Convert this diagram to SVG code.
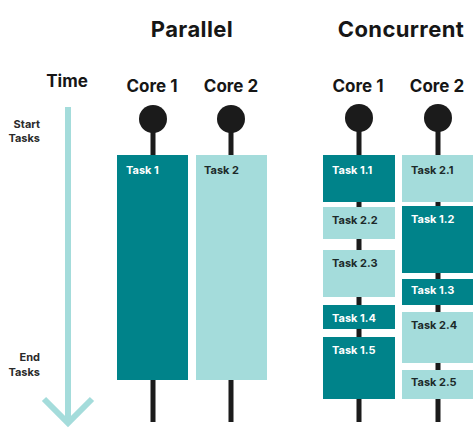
<svg xmlns="http://www.w3.org/2000/svg" width="473" height="428" viewBox="0 0 473 428">
  <style>
    .title { font-family: Inter, "DejaVu Sans", sans-serif; font-weight: 700; font-size: 22px; letter-spacing: 0.4px; fill: #161616; text-anchor: middle; }
    .core { font-family: Inter, "DejaVu Sans", sans-serif; font-weight: 700; font-size: 17px; fill: #161616; text-anchor: middle; }
    .side { font-family: Inter, "DejaVu Sans", sans-serif; font-weight: 700; font-size: 11px; fill: #2a2a2a; text-anchor: end; }
    .lbl { font-family: Inter, "DejaVu Sans", sans-serif; font-weight: 700; font-size: 11px; }
    .dark { fill: #00838a; }
    .light { fill: #a4dcdb; }
    .on-dark { fill: #ffffff; }
    .on-light { fill: #1c2a2a; }
    .stem { stroke: #1b1b1b; stroke-width: 5; fill: none; }
    .pin { fill: #1b1b1b; }
    .time { stroke: #a4dcdb; stroke-width: 6; fill: none; }
  </style>

  <rect width="473" height="428" fill="#ffffff"/>

  <!-- headings -->
  <text class="title" x="192" y="37">Parallel</text>
  <text class="title" x="401" y="37">Concurrent</text>

  <!-- time axis -->
  <g id="time-axis">
    <text class="core" x="67" y="87">Time</text>
    <text class="side" x="40" y="128">Start</text>
    <text class="side" x="40" y="142">Tasks</text>
    <text class="side" x="40" y="361">End</text>
    <text class="side" x="40" y="376">Tasks</text>
    <line class="time" x1="68" y1="107" x2="68" y2="423"/>
    <polyline class="time" points="44,399 68,423 92,399"/>
  </g>

  <!-- core timelines (stems behind the task blocks) -->
  <g id="connectors">
    <line class="stem" x1="153" y1="119" x2="153" y2="422"/>
    <line class="stem" x1="231" y1="119" x2="231" y2="422"/>
    <line class="stem" x1="359" y1="119" x2="359" y2="422"/>
    <line class="stem" x1="438" y1="119" x2="438" y2="422"/>
    <circle class="pin" cx="153" cy="119" r="14"/>
    <circle class="pin" cx="231" cy="119" r="14"/>
    <circle class="pin" cx="359" cy="118" r="14"/>
    <circle class="pin" cx="438" cy="118" r="14"/>
  </g>

  <!-- parallel cores -->
  <g id="par-core1">
    <text class="core" x="152" y="92">Core 1</text>
    <rect class="dark" x="117" y="155" width="71" height="225"/>
    <text class="lbl on-dark" x="126" y="174">Task 1</text>
  </g>
  <g id="par-core2">
    <text class="core" x="231" y="92">Core 2</text>
    <rect class="light" x="196" y="155" width="71" height="225"/>
    <text class="lbl on-light" x="204" y="174">Task 2</text>
  </g>

  <!-- concurrent core 1 -->
  <g id="con-core1">
    <text class="core" x="358" y="92">Core 1</text>
    <rect class="dark" x="323" y="155" width="72" height="47"/>
    <text class="lbl on-dark" x="332" y="174">Task 1.1</text>
    <rect class="light" x="323" y="207" width="72" height="32"/>
    <text class="lbl on-light" x="332" y="224">Task 2.2</text>
    <rect class="light" x="323" y="250" width="72" height="47"/>
    <text class="lbl on-light" x="332" y="267">Task 2.3</text>
    <rect class="dark" x="323" y="305" width="72" height="24"/>
    <text class="lbl on-dark" x="332" y="322">Task 1.4</text>
    <rect class="dark" x="323" y="337" width="72" height="62"/>
    <text class="lbl on-dark" x="332" y="354">Task 1.5</text>
  </g>

  <!-- concurrent core 2 -->
  <g id="con-core2">
    <text class="core" x="437" y="92">Core 2</text>
    <rect class="light" x="402" y="155" width="72" height="47"/>
    <text class="lbl on-light" x="411" y="174">Task 2.1</text>
    <rect class="dark" x="402" y="206" width="72" height="67"/>
    <text class="lbl on-dark" x="411" y="223">Task 1.2</text>
    <rect class="dark" x="402" y="279" width="72" height="26"/>
    <text class="lbl on-dark" x="411" y="294">Task 1.3</text>
    <rect class="light" x="402" y="312" width="72" height="51"/>
    <text class="lbl on-light" x="411" y="329">Task 2.4</text>
    <rect class="light" x="402" y="370" width="72" height="29"/>
    <text class="lbl on-light" x="411" y="386">Task 2.5</text>
  </g>
</svg>
